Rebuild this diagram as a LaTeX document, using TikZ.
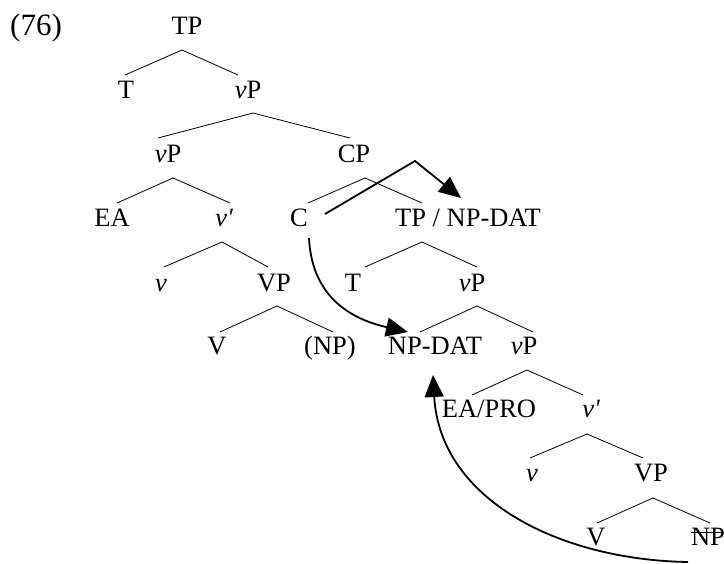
\documentclass[tikz,border=0pt]{standalone}
\usepackage{fontspec}
\newfontfamily\treefont{Liberation Serif}
\usetikzlibrary{arrows.meta}
\tikzset{
  lbl/.style={anchor=base, inner sep=0pt, font=\treefont\fontsize{26.5}{31}\selectfont},
  exnum/.style={anchor=base west, inner sep=0pt, font=\treefont\fontsize{31}{36}\selectfont},
  branch/.style={line width=0.8pt},
  move/.style={line width=1.8pt, -{Triangle[length=22pt,width=19pt]}},
}
% a binary branching: apex and the two leg ends as named coordinates
\newcommand\fork[4]{%
  \coordinate (#1-t) at #2;
  \coordinate (#1-l) at #3;
  \coordinate (#1-r) at #4;
  \draw[branch] (#1-l) -- (#1-t) -- (#1-r);}
\begin{document}
\begin{tikzpicture}[x=1pt,y=-1pt]
\useasboundingbox (0,0) rectangle (724,564);

% example number
\node[exnum] (ex) at (10,36) {(76)};

% labels of the tree
\node[lbl] (tp1)   at (187,35)  {TP};
\node[lbl] (t1)    at (126,99)  {T};
\node[lbl] (vp1)   at (248,99)  {\textit{v}P};
\node[lbl] (vp2)   at (168,163) {\textit{v}P};
\node[lbl] (cp)    at (354,163) {CP};
\node[lbl] (ea1)   at (112,227) {EA};
\node[lbl] (vb1)   at (224,227) {\itshape v'};
\node[lbl] (c)     at (299,227) {C};
\node[lbl] (tpnp)  at (468,227) {TP / NP-DAT};
\node[lbl] (v1)    at (161,292) {\itshape v};
\node[lbl] (vpa)   at (274,292) {VP};
\node[lbl] (t2)    at (353,292) {T};
\node[lbl] (vp3)   at (472,292) {\textit{v}P};
\node[lbl] (vv1)   at (217,355) {V};
\node[lbl] (np1)   at (330,355) {(NP)};
\node[lbl] (npdat) at (435,355) {NP-DAT};
\node[lbl] (vp4)   at (524,355) {\textit{v}P};
\node[lbl] (eapro) at (489,418) {EA/PRO};
\node[lbl] (vb2)   at (591,418) {\itshape v'};
\node[lbl] (v2)    at (532,482) {\itshape v};
\node[lbl] (vpb)   at (651,482) {VP};
\node[lbl] (vv2)   at (596,545) {V};
\node[lbl] (np2)   at (708,545) {NP};

% struck-out copy
\draw[branch] ([yshift=13pt]np2.base west) -- ([yshift=13pt]np2.base east);

% branches
\fork{f1}{(182,50)}{(125,75)}{(238,75)}
\fork{f2}{(253,113)}{(158,138)}{(350,138)}
\fork{f3}{(173,178)}{(117,203)}{(230,203)}
\fork{f4}{(365,178)}{(308,203)}{(422,203)}
\fork{f5}{(222,242)}{(164,267)}{(268,267)}
\fork{f6}{(422,242)}{(365,267)}{(477,267)}
\fork{f7}{(277,306)}{(220,332)}{(333,332)}
\fork{f8}{(477,306)}{(420,332)}{(533,332)}
\fork{f9}{(527,370)}{(472,395)}{(583,395)}
\fork{f10}{(587,434)}{(530,458)}{(643,458)}
\fork{f11}{(653,498)}{(597,523)}{(710,523)}

% movement arrows
\coordinate (a1s) at (325,214);
\coordinate (a1k) at (415,161);
\coordinate (a1e) at (461,198);
\draw[move] (a1s) -- (a1k) -- (a1e);

\coordinate (a2s) at (309,238);
\coordinate (a2e) at (408,332);
\draw[move] (a2s) .. controls (312,300) and (355,320) .. (a2e);

\coordinate (a3s) at (688,562);
\coordinate (a3e) at (433,375);
\draw[move] (a3s) .. controls (560,560) and (440,500) .. (a3e);
\end{tikzpicture}
\end{document}
